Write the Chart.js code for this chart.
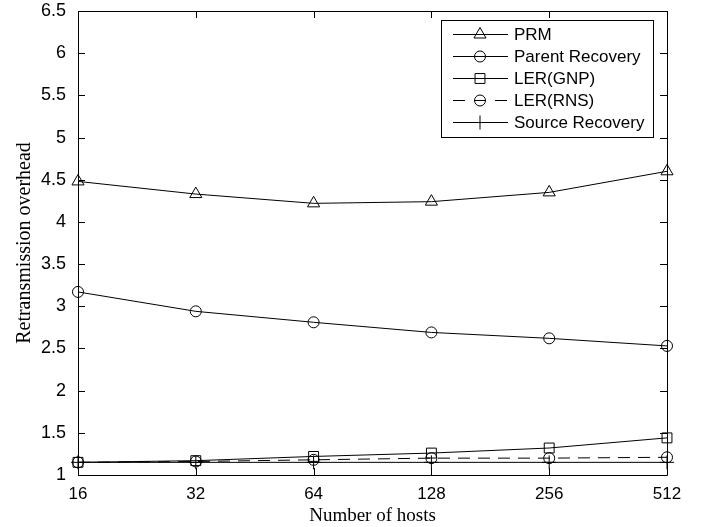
<!DOCTYPE html>
<html>
<head>
<meta charset="utf-8">
<script src="https://cdn.jsdelivr.net/npm/chart.js@4"></script>
<style>
  body { margin: 0; background: #fff; }
</style>
</head>
<body>
<canvas id="chart" width="711" height="527"></canvas>
<script>
// Data

const hosts = ["16", "32", "64", "128", "256", "512"];

const prm = [4.48, 4.33, 4.22, 4.24, 4.35, 4.6];
const parentRecovery = [3.17, 2.94, 2.81, 2.69, 2.62, 2.53];
const lerGnp = [1.15, 1.17, 1.22, 1.26, 1.32, 1.44];
const lerRns = [1.15, 1.16, 1.18, 1.2, 1.2, 1.21];
const sourceRecovery = [1.15, 1.15, 1.15, 1.15, 1.15, 1.15];

const yMin = 1;
const yMax = 6.5;
const yStep = 0.5;

const SANS = "'Liberation Sans', Arial, sans-serif";
const SERIF = "'Liberation Serif', 'Times New Roman', serif";

function series(label, data, style, radius, dash) {
  return {
    label: label,
    data: data,
    borderColor: "#000",
    backgroundColor: "rgba(0,0,0,0)",
    borderWidth: 1,
    borderDash: dash || [],
    pointStyle: style,
    pointRadius: radius,
    pointBorderWidth: 1,
    pointBorderColor: "#000",
    pointBackgroundColor: "rgba(0,0,0,0)",
    tension: 0,
    clip: false,
  };
}

// Matlab style box with ticks pointing inwards
const framePlugin = {
  id: "frame",
  afterDatasetsDraw(chart) {
    const c = chart.ctx;
    const a = chart.chartArea;
    const x = chart.scales.x;
    const y = chart.scales.y;
    const len = 7;
    c.save();
    c.strokeStyle = "#000";
    c.lineWidth = 1;
    c.beginPath();
    c.rect(Math.round(a.left) + 0.5, Math.round(a.top) + 0.5,
      Math.round(a.right - a.left), Math.round(a.bottom - a.top));
    x.ticks.forEach((t, i) => {
      const px = Math.round(x.getPixelForTick(i)) + 0.5;
      c.moveTo(px, a.bottom);
      c.lineTo(px, a.bottom - len);
      c.moveTo(px, a.top);
      c.lineTo(px, a.top + len);
    });
    y.ticks.forEach((t) => {
      const py = Math.round(y.getPixelForValue(t.value)) + 0.5;
      c.moveTo(a.left, py);
      c.lineTo(a.left + len, py);
      c.moveTo(a.right, py);
      c.lineTo(a.right - len, py);
    });
    c.stroke();
    c.restore();
  },
};

// Legend box in the upper right corner
const legendPlugin = {
  id: "boxLegend",
  afterDraw(chart) {
    const c = chart.ctx;
    const left = 441, top = 20, width = 212, height = 117;
    const rowTop = 33.5, rowStep = 22.2;
    c.save();
    c.fillStyle = "#fff";
    c.fillRect(left, top, width, height);
    c.strokeStyle = "#000";
    c.lineWidth = 1;
    c.strokeRect(left + 0.5, top + 0.5, width, height);
    chart.data.datasets.forEach((ds, i) => {
      const ry = Math.round(rowTop + i * rowStep) + 0.5;
      c.strokeStyle = "#000";
      c.lineWidth = 1;
      c.setLineDash(ds.borderDash.length ? [12, 9] : []);
      c.beginPath();
      c.moveTo(453, ry);
      c.lineTo(508, ry);
      c.stroke();
      c.setLineDash([]);
      c.fillStyle = "rgba(0,0,0,0)";
      Chart.helpers.drawPoint(c, {
        pointStyle: ds.pointStyle,
        radius: ds.pointRadius,
        rotation: 0,
        borderWidth: 1,
      }, 480, ry);
      c.fillStyle = "#000";
      c.font = "17px " + SANS;
      c.textBaseline = "middle";
      c.textAlign = "left";
      c.fillText(ds.label, 514, ry + 1);
    });
    c.restore();
  },
};

new Chart(document.getElementById("chart"), {
  type: "line",
  data: {
    labels: hosts,
    datasets: [
      series("PRM", prm, "triangle", 7),
      series("Parent Recovery", parentRecovery, "circle", 5.5),
      series("LER(GNP)", lerGnp, "rect", 7),
      series("LER(RNS)", lerRns, "circle", 5.5, [12, 8]),
      series("Source Recovery", sourceRecovery, "cross", 7),
    ],
  },
  options: {
    responsive: false,
    animation: false,
    layout: {
      padding: { top: 11, right: 44, left: 0, bottom: 0 },
    },
    scales: {
      x: {
        offset: false,
        grid: { display: false, drawTicks: false },
        border: { display: false },
        ticks: {
          color: "#000",
          padding: 9,
          maxRotation: 0,
          font: { family: SANS, size: 17 },
        },
        title: {
          display: true,
          text: "Number of hosts",
          color: "#000",
          padding: { top: 0, bottom: 0 },
          font: { family: SERIF, size: 19 },
        },
        afterFit(scale) {
          scale.height = 52;
        },
      },
      y: {
        min: yMin,
        max: yMax,
        grid: { display: false, drawTicks: false },
        border: { display: false },
        ticks: {
          stepSize: yStep,
          color: "#000",
          padding: 12,
          font: { family: SANS, size: 18 },
          callback: (v) => String(v),
        },
        title: {
          display: true,
          text: "Retransmission overhead",
          color: "#000",
          padding: { top: 13, bottom: 0 },
          font: { family: SERIF, size: 20 },
        },
        afterFit(scale) {
          scale.width = 78;
          scale.paddingTop = 0;
          scale.paddingBottom = 0;
        },
      },
    },
    plugins: {
      legend: { display: false },
      tooltip: { enabled: false },
    },
  },
  plugins: [framePlugin, legendPlugin],
});
</script>
</body>
</html>
